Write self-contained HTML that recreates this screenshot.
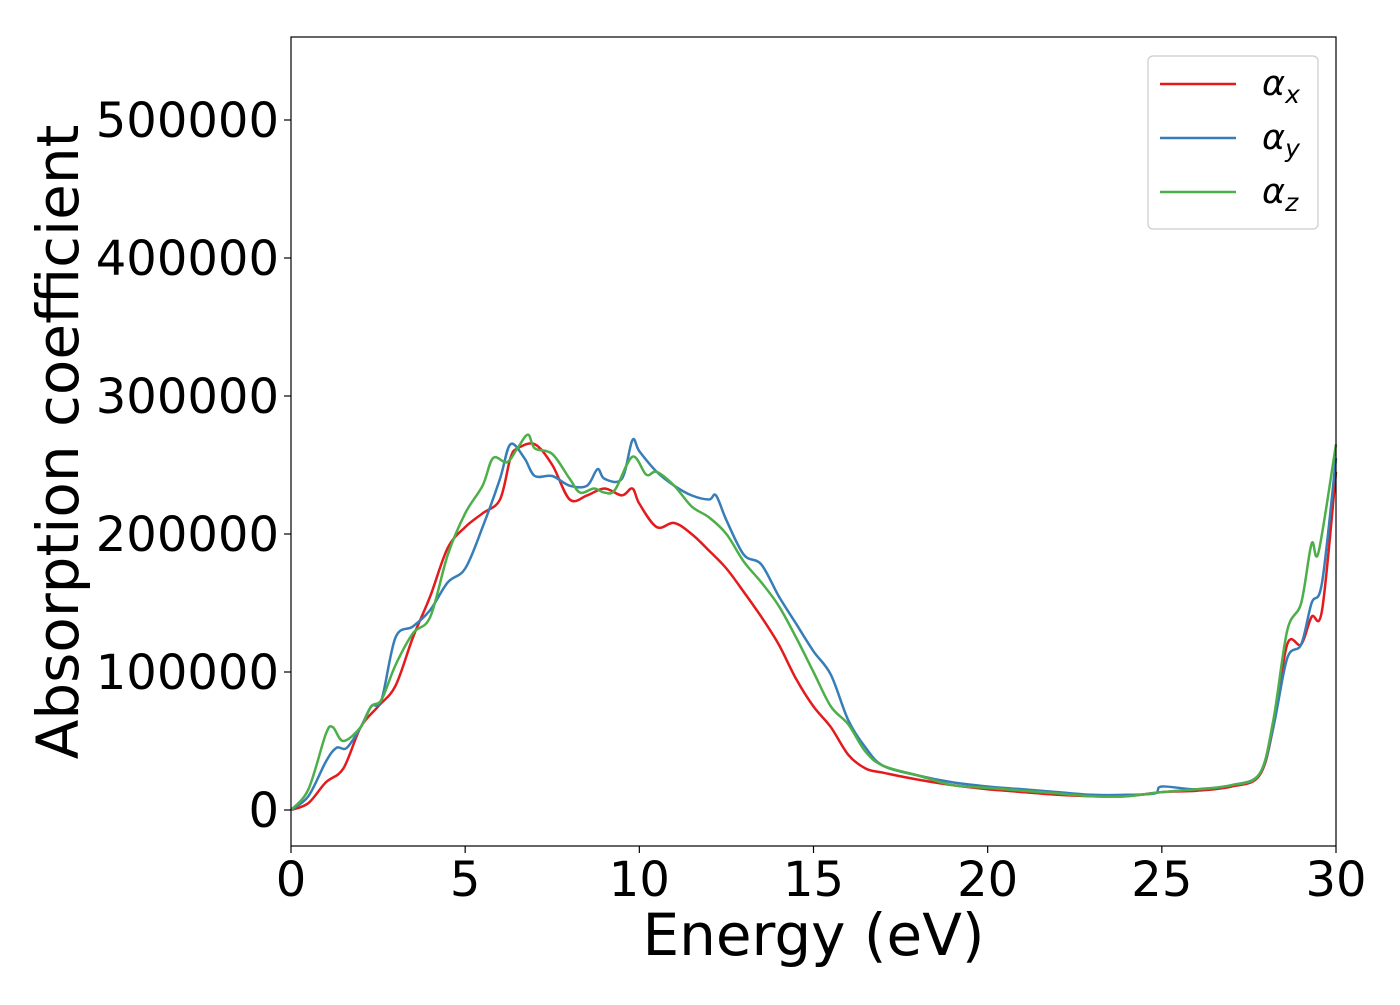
<!DOCTYPE html>
<html><head><meta charset="utf-8"><style>
html,body{margin:0;padding:0;background:#fff;}
svg text{font-family:"DejaVu Sans","Liberation Sans",sans-serif;fill:#000;}
</style></head><body>
<svg id="chart" width="1400" height="1000" viewBox="0 0 1400 1000">
<rect x="0" y="0" width="1400" height="1000" fill="#fff"/>
<g id="series"></g>
<g id="axes"></g>
</svg>
<script>
const xTicks=[0,5,10,15,20,25,30];
const yTicks=[0,100000,200000,300000,400000,500000];
const xRed=[0,0.5,1,1.5,2,2.5,3,3.5,4,4.5,5,5.5,6,6.3,6.5,7,7.5,8,8.5,9,9.5,9.8,10,10.5,11,11.5,12,12.5,13,13.5,14,14.5,15,15.5,16,16.5,17,18,19,20,21,22,23,24,25,26,27,27.8,28.2,28.6,29,29.3,29.6,30];
const yRed=[0,5,20,30,60,75,90,125,155,190,205,215,225,255,262,265,250,225,228,233,228,233,222,205,208,200,188,175,158,140,120,95,75,60,40,30,27,22,18,15,13,11,10,10,13,14,17,25,60,120,120,140,145,245];
const xBlue=[0,0.5,1,1.3,1.6,2,2.3,2.6,3,3.5,4,4.5,5,5.5,6,6.3,6.7,7,7.5,8,8.5,8.8,9,9.5,9.8,10,10.5,11,11.5,12,12.2,12.5,13,13.5,14,14.5,15,15.5,16,16.5,17,18,19,20,21,22,23,24,24.8,25,26,27,27.8,28.2,28.6,29,29.3,29.6,30];
const yBlue=[0,10,35,45,45,60,75,80,125,133,145,165,175,205,240,265,255,242,242,235,235,247,240,240,268,260,245,235,228,225,228,210,185,178,155,135,115,98,65,45,32,25,20,17,15,13,11,11,12,17,15,18,26,60,110,120,150,165,255];
const xGreen=[0,0.5,1,1.2,1.5,2,2.3,2.6,3,3.5,4,4.5,5,5.5,5.8,6.2,6.5,6.8,7,7.5,8,8.3,8.7,9,9.3,9.8,10.2,10.5,11,11.5,12,12.5,13,13.5,14,14.5,15,15.5,16,16.5,17,18,19,20,21,22,23,24,25,26,27,27.8,28.2,28.6,29,29.3,29.5,30];
const yGreen=[0,15,55,60,50,60,75,80,105,128,140,185,215,235,255,252,262,272,262,258,240,230,233,230,232,256,243,245,235,220,212,200,180,165,148,125,100,75,62,42,32,25,18,16,14,12,10,10,13,15,18,26,65,130,150,193,187,265];
const L=291,R=1336,T=37,B=846;
const X=v=>L+(v-0)/30*(R-L);
const Y=v=>810-v*0.00138;
const NS='http://www.w3.org/2000/svg';
function mk(tag,attrs,parent){const e=document.createElementNS(NS,tag);for(const k in attrs)e.setAttribute(k,attrs[k]);parent.appendChild(e);return e;}
const sg=document.getElementById('series'), ag=document.getElementById('axes');
function draw(xs,ys,color,name){
  const P=xs.map((x,i)=>[X(x),Y(ys[i]*1000)]);
  let d='M'+P[0][0].toFixed(1)+','+P[0][1].toFixed(1);
  for(let i=0;i<P.length-1;i++){
    const p0=P[Math.max(0,i-1)],p1=P[i],p2=P[i+1],p3=P[Math.min(P.length-1,i+2)];
    const c1=[p1[0]+(p2[0]-p0[0])/6,p1[1]+(p2[1]-p0[1])/6];
    const c2=[p2[0]-(p3[0]-p1[0])/6,p2[1]-(p3[1]-p1[1])/6];
    d+=' C'+c1.map(v=>v.toFixed(1)).join(',')+' '+c2.map(v=>v.toFixed(1)).join(',')+' '+p2.map(v=>v.toFixed(1)).join(',');
  }
  const p=mk('path',{d:d,fill:'none',stroke:color,'stroke-width':2.5,'stroke-linejoin':'round'},sg);
  
  
}
draw(xRed,yRed,'#e41a1c','series-alpha-x');
draw(xBlue,yBlue,'#377eb8','series-alpha-y');
draw(xGreen,yGreen,'#4daf4a','series-alpha-z');
const frame=mk('rect',{x:L,y:T,width:R-L,height:B-T,fill:'none',stroke:'#000','stroke-width':1.2},ag);


xTicks.forEach(t=>{
  mk('line',{x1:X(t),x2:X(t),y1:B,y2:B+7,stroke:'#000','stroke-width':1.2},ag);
  const tx=mk('text',{x:X(t),y:B+50,'font-size':48,'text-anchor':'middle'},ag);
  tx.textContent=t;
  
  
});
yTicks.forEach(t=>{
  mk('line',{x1:L-7,x2:L,y1:Y(t),y2:Y(t),stroke:'#000','stroke-width':1.2},ag);
  const tx=mk('text',{x:L-12,y:Y(t)+17,'font-size':48,'text-anchor':'end'},ag);
  tx.textContent=t;
  
  
});
const xt=mk('text',{x:(L+R)/2,y:955,'font-size':58,'text-anchor':'middle'},ag);
xt.textContent='Energy (eV)';


const yt=mk('text',{x:0,y:0,'font-size':58,'text-anchor':'middle',transform:'translate(78,442) rotate(-90)'},ag);
yt.textContent='Absorption coefficient';


const lg=mk('g',{},ag);


mk('rect',{x:1148,y:56,width:170,height:173,rx:5,fill:'#fff',stroke:'#ccc','stroke-width':1.2},lg);
const items=[['#e41a1c','x'],['#377eb8','y'],['#4daf4a','z']];
items.forEach((it,i)=>{
  const cy=84+i*54;
  const ln=mk('line',{x1:1160,x2:1236,y1:cy,y2:cy,stroke:it[0],'stroke-width':2.5},lg);
  
  
  const t=mk('text',{x:1262,y:cy+11,'font-size':35,'font-style':'italic'},lg);
  t.textContent='α';
  const s=mk('tspan',{'font-size':25,dy:8},t);
  s.textContent=it[1];
  
  
});
</script>
</body></html>
